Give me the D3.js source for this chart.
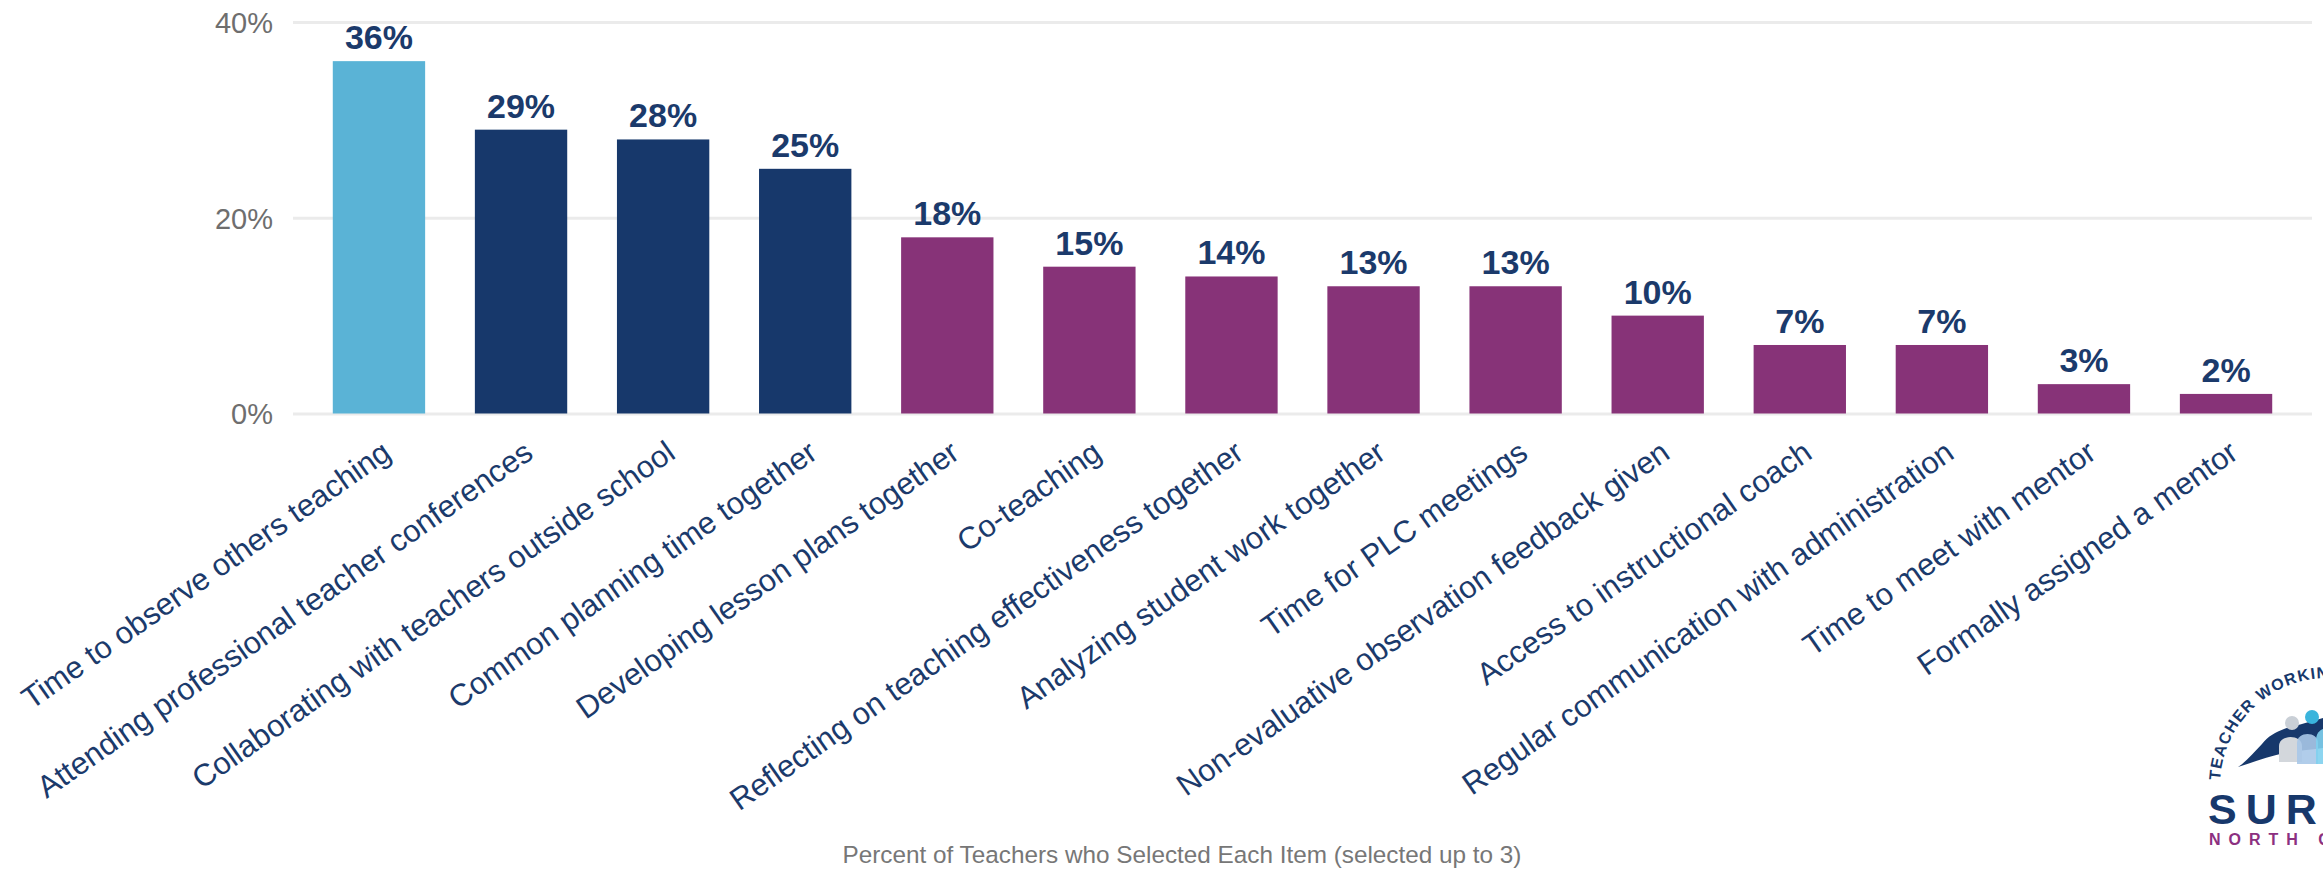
<!DOCTYPE html>
<html>
<head>
<meta charset="utf-8">
<script src="https://cdn.jsdelivr.net/npm/d3@7"></script>
<style>
  html, body { margin: 0; padding: 0; background: #ffffff; }
  svg { display: block; }
</style>
</head>
<body>
<svg id="chart" width="2323" height="871"></svg>
<script>
// Items teachers chose as most helpful for collaboration (share of teachers, %)
const categories = [
  "Time to observe others teaching",
  "Attending professional teacher conferences",
  "Collaborating with teachers outside school",
  "Common planning time together",
  "Developing lesson plans together",
  "Co-teaching",
  "Reflecting on teaching effectiveness together",
  "Analyzing student work together",
  "Time for PLC meetings",
  "Non-evaluative observation feedback given",
  "Access to instructional coach",
  "Regular communication with administration",
  "Time to meet with mentor",
  "Formally assigned a mentor"
];
const values = [36, 29, 28, 25, 18, 15, 14, 13, 13, 10, 7, 7, 3, 2];
// ranking tier of each item (top choice, next three, the rest)
const tiers = [1, 2, 2, 2, 3, 3, 3, 3, 3, 3, 3, 3, 3, 3];
const yTicks = [0, 20, 40];
const captionText = "Percent of Teachers who Selected Each Item (selected up to 3)";

const svg = d3.select("#chart");
const font = "'Liberation Sans', Arial, Helvetica, sans-serif";
const left = 293, right = 2312;

const x = d3.scaleBand()
  .domain(categories)
  .range([left, right])
  .paddingInner(0.35)
  .paddingOuter(0.28);

const y = d3.scaleLinear().domain([0, 40]).range([413.5, 22]);

const color = d3.scaleOrdinal()
  .domain([1, 2, 3])
  .range(["#5ab3d6", "#17386b", "#873378"]);

const data = categories.map((c, i) => ({ cat: c, value: values[i], tier: tiers[i] }));

// horizontal gridlines
const grid = svg.append("g")
  .attr("transform", `translate(${left},0)`)
  .call(d3.axisLeft(y).tickValues(yTicks).tickSize(-(right - left)).tickFormat(""));
grid.select(".domain").remove();
grid.selectAll(".tick text").remove();
grid.selectAll(".tick line")
  .attr("stroke", "#ebebeb")
  .attr("stroke-width", 3);

// percent labels on the value axis
const gy = svg.append("g")
  .attr("transform", `translate(${left},0)`)
  .call(d3.axisLeft(y).tickValues(yTicks).tickSize(0).tickPadding(20).tickFormat(d => d + "%"));
gy.select(".domain").remove();
gy.selectAll(".tick line").remove();
gy.selectAll(".tick text")
  .attr("fill", "#6e6e6e")
  .attr("font-family", font)
  .attr("font-size", 29)
  .attr("dy", "0.36em");

// bars
svg.append("g")
  .selectAll("rect")
  .data(data)
  .join("rect")
  .attr("x", d => x(d.cat))
  .attr("y", d => y(d.value))
  .attr("width", x.bandwidth())
  .attr("height", d => y(0) - y(d.value))
  .attr("fill", d => color(d.tier));

// value labels above bars
svg.append("g")
  .selectAll("text")
  .data(data)
  .join("text")
  .attr("x", d => x(d.cat) + x.bandwidth() / 2)
  .attr("y", d => y(d.value) - 12)
  .attr("text-anchor", "middle")
  .attr("font-family", font)
  .attr("font-weight", "bold")
  .attr("font-size", 34)
  .attr("fill", "#1b3a6b")
  .text(d => d.value + "%");

// rotated category labels
svg.append("g")
  .selectAll("text")
  .data(data)
  .join("text")
  .attr("transform", d => `translate(${x(d.cat) + x.bandwidth() / 2 + 14},457) rotate(-35)`)
  .attr("text-anchor", "end")
  .attr("font-family", font)
  .attr("font-size", 31)
  .attr("fill", "#1b3a6b")
  .text(d => d.cat);

// caption under the plot
svg.append("text")
  .attr("x", 1182)
  .attr("y", 863)
  .attr("text-anchor", "middle")
  .attr("font-family", font)
  .attr("font-size", 24.3)
  .attr("fill", "#777777")
  .text(captionText);

// survey logo in the lower right corner
const logo = svg.append("g");
const cx = 2328, cy = 786, r = 108;
const a0 = 177 * Math.PI / 180, a1 = -10 * Math.PI / 180;
// clockwise arc over the top of the badge
logo.append("path")
  .attr("id", "logoArc")
  .attr("fill", "none")
  .attr("d", `M${cx + r * Math.cos(a0)},${cy - r * Math.sin(a0)} A${r},${r} 0 1 1 ${cx + r * Math.cos(a1)},${cy - r * Math.sin(a1)}`);
logo.append("text")
  .attr("font-family", font)
  .attr("font-weight", "bold")
  .attr("font-size", 16)
  .attr("letter-spacing", 1.2)
  .attr("fill", "#17386b")
  .append("textPath")
  .attr("href", "#logoArc")
  .text("TEACHER WORKING CONDITIONS");

// state silhouette
logo.append("path")
  .attr("fill", "#17386b")
  .attr("d", "M2238,767 C2246,762 2254,752 2262,744 C2268,736 2276,732 2284,729 C2294,726 2306,723 2316,720 L2323,718 L2323,748 C2310,750 2296,751 2284,753 C2270,756 2254,762 2238,767 Z");
// figures
logo.append("circle").attr("cx", 2292).attr("cy", 723).attr("r", 7).attr("fill", "#c9cfd6");
logo.append("circle").attr("cx", 2312).attr("cy", 717).attr("r", 7).attr("fill", "#3ab4dc");
logo.append("path").attr("fill", "#d3d7dc")
  .attr("d", "M2279,762 L2279,746 C2279,734 2302,734 2302,746 L2302,762 Z");
logo.append("path").attr("fill", "#a9c8e8").attr("opacity", 0.9)
  .attr("d", "M2297,764 L2297,743 C2297,731 2318,731 2318,743 L2318,764 Z");
logo.append("path").attr("fill", "#7fd0ee").attr("opacity", 0.9)
  .attr("d", "M2316,764 L2316,740 C2316,731 2323,729 2323,729 L2323,764 Z");

logo.append("text")
  .attr("x", 2208)
  .attr("y", 824)
  .attr("font-family", font)
  .attr("font-weight", "bold")
  .attr("font-size", 43)
  .attr("letter-spacing", 9)
  .attr("fill", "#17386b")
  .text("SURVEY");
logo.append("text")
  .attr("x", 2209)
  .attr("y", 845)
  .attr("font-family", font)
  .attr("font-weight", "bold")
  .attr("font-size", 16)
  .attr("letter-spacing", 8)
  .attr("fill", "#8c3080")
  .text("NORTH CAROLINA");
</script>
</body>
</html>
